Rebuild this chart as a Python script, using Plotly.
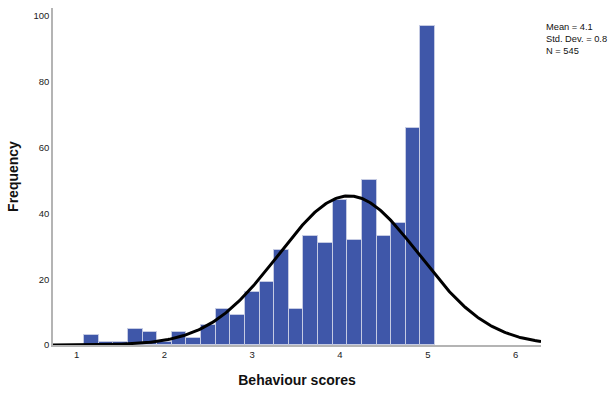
import numpy as np
import plotly.graph_objects as go

# Histogram of behaviour scores: bins of width 1/6, centred on k/6
bin_centers = [k / 6 for k in range(7, 31)]
frequencies = [3, 1, 1, 5, 4, 1, 4, 2, 6, 11, 9, 16, 19, 29, 11, 33, 31, 44, 32, 50, 33, 37, 66, 97]
bin_width = 1 / 6

# Summary statistics shown in the corner
mean_score = 4.1
sd_score = 0.8
n_obs = 545

x_range = [0.73, 6.29]
y_range = [0, 102.4]
y_ticks = [0, 20, 40, 60, 80, 100]
x_ticks = [1, 2, 3, 4, 5, 6]

# Normal curve scaled to histogram counts
xs = np.linspace(x_range[0], x_range[1], 400)
ys = n_obs * bin_width / (sd_score * np.sqrt(2 * np.pi)) * np.exp(-0.5 * ((xs - mean_score) / sd_score) ** 2)

fig = go.Figure()
fig.add_trace(go.Bar(
    x=bin_centers, y=frequencies, width=bin_width,
    marker=dict(color="#3f57a9", line=dict(color="#c5cbe3", width=1)),
    hoverinfo="x+y",
))
fig.add_trace(go.Scatter(
    x=xs, y=ys, mode="lines",
    line=dict(color="black", width=3),
    cliponaxis=False, hoverinfo="skip",
))

font_family = "Liberation Sans, Arial, sans-serif"
fig.update_layout(
    width=608, height=394,
    margin=dict(l=53, r=67, t=8, b=46),
    plot_bgcolor="white", paper_bgcolor="white",
    showlegend=False, bargap=0,
    font=dict(family=font_family, size=9, color="#222"),
    xaxis=dict(
        range=x_range, tickvals=x_ticks, showgrid=False, zeroline=False,
        showline=True, linecolor="#b4b4b4", linewidth=1.5, ticks="",
        tickfont=dict(size=9.5, color="#222"),
        title=dict(text="<b>Behaviour scores</b>", font=dict(size=14, color="#111"), standoff=16),
    ),
    yaxis=dict(
        range=y_range, tickvals=y_ticks, showgrid=False, zeroline=False,
        showline=True, linecolor="#b4b4b4", linewidth=1.5, ticks="",
        tickfont=dict(size=9.5, color="#222"),
        title=dict(text="<b>Frequency</b>", font=dict(size=14, color="#111"), standoff=12),
    ),
    annotations=[dict(
        xref="paper", yref="paper", x=1.008, y=0.962,
        xanchor="left", yanchor="top", align="left", showarrow=False,
        borderpad=0,
        text=f"Mean = {mean_score}<br>Std. Dev. = {sd_score}<br>N = {n_obs}",
        font=dict(size=9.3, color="#111", family=font_family),
    )],
)

fig.write_html("out.html")
